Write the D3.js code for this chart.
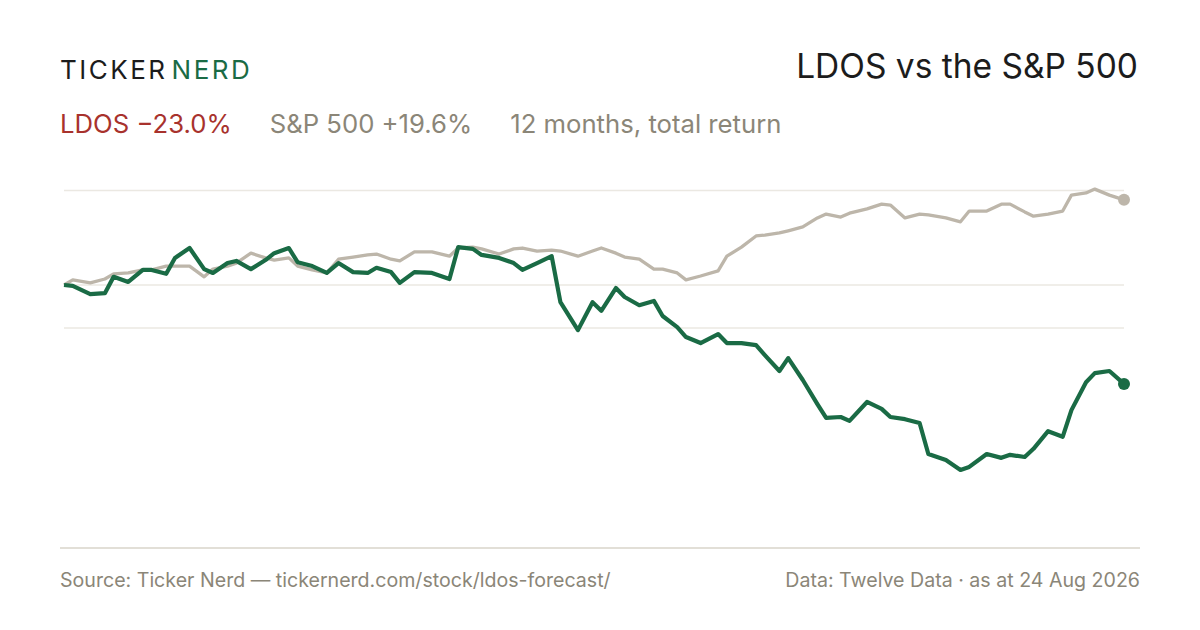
<!DOCTYPE html>
<html>
<head>
<meta charset="utf-8">
<script src="https://cdn.jsdelivr.net/npm/d3@7"></script>
<style>
  body { margin: 0; background: #fff; }
  svg { display: block; }
  text { font-family: Inter, "Liberation Sans", Arial, sans-serif; }
</style>
</head>
<body>
<svg id="chart" width="1200" height="630"></svg>
<script>
// cumulative total return, %, one point every 3rd trading day
const ldos = [0, -0.2, -2.1, -1.9, 1.9, 0.7, 3.5, 3.5, 2.6, 6.3,
  8.6, 3.7, 2.8, 5.1, 5.6, 3.7, 5.8, 7.4, 8.6, 5.3,
  4.4, 2.8, 5.1, 3.0, 2.8, 4.0, 3.0, 0.5, 3.0, 2.8,
  1.4, 8.8, 8.4, 7.0, 6.3, 5.1, 3.5, 5.1, 6.7, -4.0,
  -10.5, -4.0, -6.0, -0.7, -2.8, -4.7, -3.7, -7.2, -9.8, -12.1,
  -13.5, -11.4, -13.5, -13.5, -14.0, -16.3, -20.0, -17.0, -22.1, -27.7,
  -30.9, -30.7, -31.6, -27.2, -28.8, -30.7, -31.2, -32.1, -39.3, -40.7,
  -43.0, -42.3, -39.3, -40.2, -39.5, -40.0, -38.1, -34.0, -35.3, -29.1,
  -22.6, -20.5, -20.0, -23.0];

const spx = [0, 1.2, 0.5, 1.4, 2.6, 2.8, 3.5, 3.5, 4.4, 4.4,
  4.4, 1.9, 3.7, 4.4, 5.1, 7.4, 6.3, 5.8, 6.3, 4.4,
  3.5, 2.8, 6.0, 6.5, 7.0, 7.2, 6.0, 5.6, 7.7, 7.7,
  6.7, 8.6, 8.8, 8.4, 7.2, 8.4, 8.6, 7.9, 8.1, 7.9,
  6.7, 7.9, 8.6, 7.4, 6.5, 6.0, 3.7, 3.7, 2.8, 1.2,
  2.1, 3.3, 6.7, 8.8, 11.4, 11.6, 12.1, 12.6, 13.5, 15.6,
  16.5, 15.8, 16.7, 17.7, 18.8, 18.6, 15.6, 16.5, 16.3, 15.6,
  14.7, 17.2, 17.2, 18.8, 18.8, 17.0, 16.0, 16.5, 17.2, 20.9,
  21.4, 22.3, 20.9, 19.8];

const holidays = ["2025-09-01", "2025-11-27", "2025-12-25", "2026-01-01", "2026-01-19",
  "2026-02-16", "2026-04-03", "2026-05-25", "2026-06-19", "2026-07-03"];

const gridValues = [22, 0, -10];

const headline = [
  { text: "LDOS \u221223.0%", color: "#a8322d" },
  { text: "S&P 500 +19.6%", color: "#8b8678" },
  { text: "12 months, total return", color: "#8b8678" }
];

const green = "#1a6b45", sand = "#bdb6aa", muted = "#8b8678";

// trading calendar -> every 3rd session counting back from the last one
const fmt = d3.timeFormat("%Y-%m-%d");
const sessions = d3.timeDay.range(new Date(2025, 7, 25), new Date(2026, 7, 25))
  .filter(d => d.getDay() > 0 && d.getDay() < 6 && !holidays.includes(fmt(d)));
const dates = sessions
  .filter((d, i) => (sessions.length - 1 - i) % 3 === 0)
  .slice(-ldos.length);

const svg = d3.select("#chart");

const x = d3.scaleTime().domain(d3.extent(dates)).range([64, 1124]);
const y = d3.scaleLinear().domain([-40, 20]).range([457, 199]);

// header
const logo = svg.append("text")
  .attr("x", 60).attr("y", 79)
  .attr("font-size", 26)
  .attr("letter-spacing", 2.5);
logo.append("tspan").attr("fill", "#1c1c1c").text("TICKER");
logo.append("tspan").attr("fill", green).attr("dx", 4).text("NERD");

svg.append("text")
  .attr("x", 1138).attr("y", 78)
  .attr("text-anchor", "end")
  .attr("font-size", 33.5)
  .attr("fill", "#1c1c1c")
  .text("LDOS vs the S&P 500");

let hx = 60;
headline.forEach(h => {
  const t = svg.append("text")
    .attr("x", hx).attr("y", 133)
    .attr("font-size", 25.7)
    .attr("fill", h.color)
    .text(h.text);
  hx += t.node().getComputedTextLength() + 38;
});

// grid
svg.append("g")
  .selectAll("line")
  .data(gridValues)
  .join("line")
  .attr("x1", 64).attr("x2", 1124)
  .attr("y1", d => y(d)).attr("y2", d => y(d))
  .attr("stroke", "#ebe8e2")
  .attr("stroke-width", 1.5);

const line = d3.line()
  .x((d, i) => x(dates[i]))
  .y(d => y(d));

svg.append("path")
  .datum(spx)
  .attr("d", line)
  .attr("fill", "none")
  .attr("stroke", sand)
  .attr("stroke-width", 3.3)
  .attr("stroke-linejoin", "round");

svg.append("path")
  .datum(ldos)
  .attr("d", line)
  .attr("fill", "none")
  .attr("stroke", green)
  .attr("stroke-width", 4.2)
  .attr("stroke-linejoin", "round");

const last = dates.length - 1;
svg.append("circle")
  .attr("cx", x(dates[last])).attr("cy", y(spx[last]))
  .attr("r", 6).attr("fill", sand);
svg.append("circle")
  .attr("cx", x(dates[last])).attr("cy", y(ldos[last]))
  .attr("r", 6).attr("fill", green);

// footer
svg.append("line")
  .attr("x1", 60).attr("x2", 1140)
  .attr("y1", 548).attr("y2", 548)
  .attr("stroke", "#e2dfd7")
  .attr("stroke-width", 2);

svg.append("text")
  .attr("x", 60).attr("y", 587)
  .attr("font-size", 19.6)
  .attr("fill", muted)
  .text("Source: Ticker Nerd \u2014 tickernerd.com/stock/ldos-forecast/");

svg.append("text")
  .attr("x", 1140).attr("y", 587)
  .attr("text-anchor", "end")
  .attr("font-size", 19.6)
  .attr("fill", muted)
  .text("Data: Twelve Data \u00b7 as at 24 Aug 2026");
</script>
</body>
</html>
